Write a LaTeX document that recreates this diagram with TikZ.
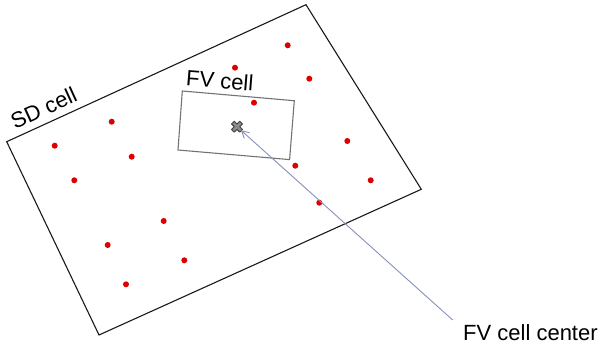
\documentclass[tikz,border=0pt]{standalone}
\usepackage{fontspec}
\setmainfont{Liberation Sans}
\usetikzlibrary{arrows.meta}
\definecolor{dotred}{HTML}{DD0000}
\definecolor{pointer}{HTML}{8890B8}
\tikzset{
  sdedge/.style={draw=black!90, line width=1.1pt, line join=miter},
  fvedge/.style={draw=black!55, line width=1.1pt},
  sample/.style={circle, fill=dotred, inner sep=0pt, minimum size=6pt},
  lbl/.style={font=\fontsize{22}{26}\selectfont, inner sep=0pt, anchor=base west},
  pointerline/.style={draw=pointer, line width=0.9pt, -{Straight Barb[length=7pt,width=8pt]}, shorten >=5.5pt}
}
\begin{document}
\begin{tikzpicture}[x=1pt, y=-1pt]
  \useasboundingbox (0,0) rectangle (603,348);

  % SD cell outline
  \coordinate (sd1) at (6.7,141.7);
  \coordinate (sd2) at (306,4.7);
  \coordinate (sd3) at (421.3,189.3);
  \coordinate (sd4) at (99,335);
  \path[sdedge] (sd1) -- (sd2) -- (sd3) -- (sd4) -- cycle;
  \node[lbl, rotate=24.6] (sdlabel) at (15,129.5) {SD cell};

  % FV cell outline
  \coordinate (fv1) at (182.3,91);
  \coordinate (fv2) at (294.3,100.7);
  \coordinate (fv3) at (289.6,159.6);
  \coordinate (fv4) at (178,150);
  \path[fvedge] (fv1) -- (fv2) -- (fv3) -- (fv4) -- cycle;
  \node[lbl, rotate=-4.6] (fvlabel) at (185.5,85.5) {FV cell};

  % sample points
  \foreach \px/\py [count=\i] in {
      111.7/121.7, 54.7/145.7, 131.7/156.7, 74.3/180.3,
      163.7/221, 107.7/245, 184.3/260.3, 126/284.3,
      287.7/45.3, 235/67.7, 309.3/78.7, 254/102.7,
      347.3/141, 295.3/165.7, 370.7/180.3, 319.3/202.7}
    \node[sample] (p\i) at (\px,\py) {};

  % FV cell center marker
  \coordinate (fvc) at (237,126.7);
  \begin{scope}[shift={(fvc)}, rotate=45]
    \path[fill=black!45, draw=black!75, line width=0.9pt, line join=round]
      (1.9,5.8) -- (1.9,1.9) -- (5.8,1.9) -- (5.8,-1.9) -- (1.9,-1.9) --
      (1.9,-5.8) -- (-1.9,-5.8) -- (-1.9,-1.9) -- (-5.8,-1.9) -- (-5.8,1.9) --
      (-1.9,1.9) -- (-1.9,5.8) -- cycle;
  \end{scope}

  % pointer to the center
  \coordinate (tail) at (452.7,320);
  \draw[pointerline] (tail) -- (fvc);
  \node[lbl] (centerlabel) at (463,340) {FV cell center};
\end{tikzpicture}
\end{document}
